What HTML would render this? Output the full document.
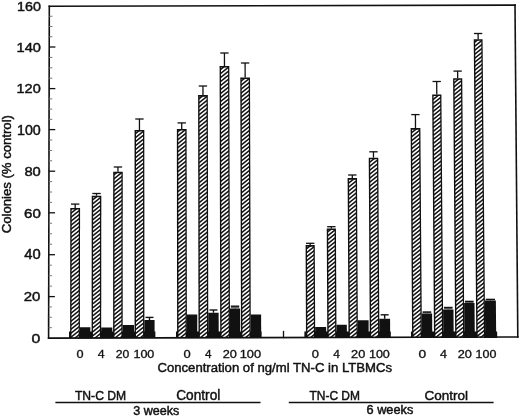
<!DOCTYPE html>
<html><head><meta charset="utf-8"><title>Colonies chart</title>
<style>
html,body{margin:0;padding:0;background:#fff;}
body{width:520px;height:417px;overflow:hidden;}
svg{display:block;}
text{font-family:"Liberation Sans", "DejaVu Sans", sans-serif;fill:#111;stroke:#111;stroke-width:0.45px;}
</style></head><body>
<svg width="520" height="417" viewBox="0 0 520 417">
<defs><pattern id="hatch" patternUnits="userSpaceOnUse" width="5" height="4"><rect width="5" height="4" fill="#111"/><path d="M-2.5,2 L2.5,-2 M0,4 L5,0 M2.5,6 L7.5,2" stroke="#fff" stroke-width="1.65"/></pattern></defs>
<rect width="520" height="417" fill="#fff"/>
<polygon points="69,338 155.4,338 155.4,331.5 69.01,331.5" fill="#111"/>
<polygon points="79.9,338 90.3,338 90.31,327.2 79.91,327.2" fill="#111"/>
<polygon points="101.2,338 112.3,338 112.3,327.4 101.21,327.4" fill="#111"/>
<polygon points="122.7,338 134,338 134,325 122.7,325" fill="#111"/>
<polygon points="144.4,338 154.6,338 154.59,320.1 144.39,320.1" fill="#111"/>
<line x1="149.49" y1="317.4" x2="149.49" y2="320.1" stroke="#111" stroke-width="1.4"/><line x1="145.49" y1="317.4" x2="153.49" y2="317.4" stroke="#111" stroke-width="1.4"/>
<polygon points="70.1,338 79.9,338 80.06,207.9 70.29,207.9" fill="#111"/>
<polygon points="71.5,338 78.6,338 78.76,209.5 71.69,209.5" fill="url(#hatch)"/>
<line x1="75.18" y1="204.1" x2="75.18" y2="207.9" stroke="#111" stroke-width="1.3"/><line x1="71" y1="204.1" x2="79.37" y2="204.1" stroke="#111" stroke-width="1.3"/>
<polygon points="91.6,338 101.2,338 101.3,195.7 91.74,195.7" fill="#111"/>
<polygon points="93,338 99.9,338 100.01,197.3 93.13,197.3" fill="url(#hatch)"/>
<line x1="96.52" y1="193.5" x2="96.52" y2="195.7" stroke="#111" stroke-width="1.3"/><line x1="92.34" y1="193.5" x2="100.71" y2="193.5" stroke="#111" stroke-width="1.3"/>
<polygon points="113.1,338 122.7,338 122.73,171.7 113.17,171.7" fill="#111"/>
<polygon points="114.5,338 121.4,338 121.44,173.3 114.56,173.3" fill="url(#hatch)"/>
<line x1="117.95" y1="167" x2="117.95" y2="171.7" stroke="#111" stroke-width="1.3"/><line x1="113.77" y1="167" x2="122.13" y2="167" stroke="#111" stroke-width="1.3"/>
<polygon points="134.6,338 144.4,338 144.33,130 134.58,130" fill="#111"/>
<polygon points="136,338 143.1,338 143.03,131.6 135.97,131.6" fill="url(#hatch)"/>
<line x1="139.45" y1="119" x2="139.45" y2="130" stroke="#111" stroke-width="1.3"/><line x1="135.27" y1="119" x2="143.63" y2="119" stroke="#111" stroke-width="1.3"/>
<polygon points="176,338 261.6,338 261.58,331.5 175.99,331.5" fill="#111"/>
<polygon points="186.9,338 197.3,338 197.26,314.4 186.87,314.4" fill="#111"/>
<polygon points="208.3,338 218.7,338 218.64,312.7 208.25,312.7" fill="#111"/>
<line x1="213.44" y1="310" x2="213.45" y2="312.7" stroke="#111" stroke-width="1.4"/><line x1="209.44" y1="310" x2="217.44" y2="310" stroke="#111" stroke-width="1.4"/>
<polygon points="230,338 240.2,338 240.12,308.5 229.93,308.5" fill="#111"/>
<line x1="235.02" y1="306.2" x2="235.02" y2="308.5" stroke="#111" stroke-width="1.4"/><polygon points="230.93,308.5 239.12,308.5 239.11,306.2 230.92,306.2" fill="#666"/>
<line x1="230.82" y1="306.2" x2="239.21" y2="306.2" stroke="#111" stroke-width="1.4"/>
<polygon points="250.8,338 261.2,338 261.12,314.6 250.73,314.6" fill="#111"/>
<polygon points="177.1,338 186.9,338 186.6,128.9 176.86,128.9" fill="#111"/>
<polygon points="178.5,338 185.6,338 185.31,130.5 178.25,130.5" fill="url(#hatch)"/>
<line x1="181.72" y1="122.9" x2="181.73" y2="128.9" stroke="#111" stroke-width="1.3"/><line x1="177.55" y1="122.9" x2="185.9" y2="122.9" stroke="#111" stroke-width="1.3"/>
<polygon points="198.5,338 208.3,338 207.83,95.1 198.09,95.1" fill="#111"/>
<polygon points="199.9,338 207,338 206.54,96.7 199.48,96.7" fill="url(#hatch)"/>
<line x1="202.94" y1="86" x2="202.96" y2="95.1" stroke="#111" stroke-width="1.3"/><line x1="198.77" y1="86" x2="207.12" y2="86" stroke="#111" stroke-width="1.3"/>
<polygon points="220.2,338 230,338 229.33,65.9 219.59,65.9" fill="#111"/>
<polygon points="221.6,338 228.7,338 228.04,67.5 220.99,67.5" fill="url(#hatch)"/>
<line x1="224.43" y1="53" x2="224.46" y2="65.9" stroke="#111" stroke-width="1.3"/><line x1="220.26" y1="53" x2="228.6" y2="53" stroke="#111" stroke-width="1.3"/>
<polygon points="241,338 250.8,338 250.02,77.4 240.28,77.4" fill="#111"/>
<polygon points="242.4,338 249.5,338 248.73,79 241.68,79" fill="url(#hatch)"/>
<line x1="245.11" y1="63" x2="245.15" y2="77.4" stroke="#111" stroke-width="1.3"/><line x1="240.94" y1="63" x2="249.28" y2="63" stroke="#111" stroke-width="1.3"/>
<polygon points="304.4,338 390.8,338 390.76,331.5 304.37,331.5" fill="#111"/>
<polygon points="315.2,338 326.2,338 326.15,327.1 315.15,327.1" fill="#111"/>
<polygon points="336.5,338 346.9,338 346.83,324.8 336.43,324.8" fill="#111"/>
<polygon points="357.9,338 368.7,338 368.59,320.2 357.8,320.2" fill="#111"/>
<polygon points="379.4,338 390.2,338 390.08,318.7 379.28,318.7" fill="#111"/>
<line x1="384.65" y1="314.8" x2="384.68" y2="318.7" stroke="#111" stroke-width="1.4"/><line x1="380.66" y1="314.8" x2="388.65" y2="314.8" stroke="#111" stroke-width="1.4"/>
<polygon points="306,338 315.2,338 314.77,245.1 305.59,245.1" fill="#111"/>
<polygon points="307.4,338 313.9,338 313.48,246.7 307,246.7" fill="url(#hatch)"/>
<line x1="310.18" y1="243.3" x2="310.18" y2="245.1" stroke="#111" stroke-width="1.3"/><line x1="305.99" y1="243.3" x2="314.37" y2="243.3" stroke="#111" stroke-width="1.3"/>
<polygon points="327.3,338 336.5,338 335.94,228.4 326.76,228.4" fill="#111"/>
<polygon points="328.7,338 335.2,338 334.65,230 328.17,230" fill="url(#hatch)"/>
<line x1="331.34" y1="226.7" x2="331.35" y2="228.4" stroke="#111" stroke-width="1.3"/><line x1="327.15" y1="226.7" x2="335.53" y2="226.7" stroke="#111" stroke-width="1.3"/>
<polygon points="348.5,338 357.9,338 357,178.1 347.63,178.1" fill="#111"/>
<polygon points="349.9,338 356.6,338 355.71,179.7 349.04,179.7" fill="url(#hatch)"/>
<line x1="352.3" y1="175" x2="352.31" y2="178.1" stroke="#111" stroke-width="1.3"/><line x1="348.11" y1="175" x2="356.48" y2="175" stroke="#111" stroke-width="1.3"/>
<polygon points="369.8,338 379.4,338 378.28,157.7 368.73,157.7" fill="#111"/>
<polygon points="371.2,338 378.1,338 377,159.3 370.13,159.3" fill="url(#hatch)"/>
<line x1="373.47" y1="151.8" x2="373.51" y2="157.7" stroke="#111" stroke-width="1.3"/><line x1="369.29" y1="151.8" x2="377.65" y2="151.8" stroke="#111" stroke-width="1.3"/>
<polygon points="411,338 497.2,338 497.14,331.5 410.95,331.5" fill="#111"/>
<polygon points="421.9,338 432.3,338 432.12,313.5 421.72,313.5" fill="#111"/>
<line x1="426.91" y1="312" x2="426.92" y2="313.5" stroke="#111" stroke-width="1.4"/><polygon points="422.72,313.5 431.12,313.5 431.11,312 422.71,312" fill="#666"/>
<line x1="422.61" y1="312" x2="431.21" y2="312" stroke="#111" stroke-width="1.4"/>
<polygon points="443.3,338 453.7,338 453.47,309.4 443.08,309.4" fill="#111"/>
<line x1="448.26" y1="307.5" x2="448.27" y2="309.4" stroke="#111" stroke-width="1.4"/><polygon points="444.08,309.4 452.47,309.4 452.46,307.5 444.06,307.5" fill="#666"/>
<line x1="443.96" y1="307.5" x2="452.56" y2="307.5" stroke="#111" stroke-width="1.4"/>
<polygon points="464.4,338 474.8,338 474.5,302.9 464.11,302.9" fill="#111"/>
<line x1="469.29" y1="301.4" x2="469.3" y2="302.9" stroke="#111" stroke-width="1.4"/><polygon points="465.11,302.9 473.5,302.9 473.49,301.4 465.1,301.4" fill="#666"/>
<line x1="465" y1="301.4" x2="473.59" y2="301.4" stroke="#111" stroke-width="1.4"/>
<polygon points="485.2,338 496.2,338 495.86,300.6 484.87,300.6" fill="#111"/>
<line x1="490.35" y1="299.4" x2="490.37" y2="300.6" stroke="#111" stroke-width="1.4"/><polygon points="485.87,300.6 494.86,300.6 494.85,299.4 485.86,299.4" fill="#666"/>
<line x1="485.76" y1="299.4" x2="494.95" y2="299.4" stroke="#111" stroke-width="1.4"/>
<polygon points="412.1,338 421.9,338 420.38,128.1 410.63,128.1" fill="#111"/>
<polygon points="413.5,338 420.6,338 419.1,129.7 412.04,129.7" fill="url(#hatch)"/>
<line x1="415.41" y1="114.6" x2="415.51" y2="128.1" stroke="#111" stroke-width="1.3"/><line x1="411.23" y1="114.6" x2="419.59" y2="114.6" stroke="#111" stroke-width="1.3"/>
<polygon points="434,338 443.3,338 441.41,94.5 432.16,94.5" fill="#111"/>
<polygon points="435.4,338 442,338 440.13,96.1 433.57,96.1" fill="url(#hatch)"/>
<line x1="436.69" y1="81.5" x2="436.79" y2="94.5" stroke="#111" stroke-width="1.3"/><line x1="432.51" y1="81.5" x2="440.86" y2="81.5" stroke="#111" stroke-width="1.3"/>
<polygon points="455.2,338 464.4,338 462.25,78.2 453.1,78.2" fill="#111"/>
<polygon points="456.6,338 463.1,338 460.97,79.8 454.51,79.8" fill="url(#hatch)"/>
<line x1="457.62" y1="71.1" x2="457.68" y2="78.2" stroke="#111" stroke-width="1.3"/><line x1="453.44" y1="71.1" x2="461.79" y2="71.1" stroke="#111" stroke-width="1.3"/>
<polygon points="476.3,338 485.2,338 482.57,39.2 473.73,39.2" fill="#111"/>
<polygon points="477.7,338 483.9,338 481.29,40.8 475.14,40.8" fill="url(#hatch)"/>
<line x1="478.1" y1="33.5" x2="478.15" y2="39.2" stroke="#111" stroke-width="1.3"/><line x1="473.93" y1="33.5" x2="482.27" y2="33.5" stroke="#111" stroke-width="1.3"/>
<g stroke="#111" fill="none" stroke-linecap="square">
<line x1="49.3" y1="6.2" x2="48.6" y2="338.1" stroke-width="1.6"/>
<line x1="49.3" y1="6.2" x2="515" y2="5.1" stroke-width="1.6"/>
<line x1="515" y1="5.1" x2="517.8" y2="337" stroke-width="1.6"/>
<line x1="48.6" y1="338.1" x2="517.8" y2="337" stroke-width="1.6"/>
<line x1="283.5" y1="331.5" x2="283.5" y2="337.5" stroke-width="1.3"/>
</g>
<g stroke="#111">
<line x1="48.62" y1="327.65" x2="51.82" y2="327.65" stroke-width="1" stroke="#777"/><line x1="48.64" y1="317.3" x2="51.84" y2="317.3" stroke-width="1" stroke="#777"/><line x1="48.67" y1="306.95" x2="51.87" y2="306.95" stroke-width="1" stroke="#777"/><line x1="48.69" y1="296.6" x2="54.89" y2="296.6" stroke-width="1.3"/><line x1="48.71" y1="286.12" x2="51.91" y2="286.12" stroke-width="1" stroke="#777"/><line x1="48.73" y1="275.65" x2="51.93" y2="275.65" stroke-width="1" stroke="#777"/><line x1="48.75" y1="265.18" x2="51.95" y2="265.18" stroke-width="1" stroke="#777"/><line x1="48.78" y1="254.7" x2="54.98" y2="254.7" stroke-width="1.3"/><line x1="48.8" y1="244.22" x2="52" y2="244.22" stroke-width="1" stroke="#777"/><line x1="48.82" y1="233.75" x2="52.02" y2="233.75" stroke-width="1" stroke="#777"/><line x1="48.84" y1="223.28" x2="52.04" y2="223.28" stroke-width="1" stroke="#777"/><line x1="48.86" y1="212.8" x2="55.06" y2="212.8" stroke-width="1.3"/><line x1="48.89" y1="202.4" x2="52.09" y2="202.4" stroke-width="1" stroke="#777"/><line x1="48.91" y1="192" x2="52.11" y2="192" stroke-width="1" stroke="#777"/><line x1="48.93" y1="181.6" x2="52.13" y2="181.6" stroke-width="1" stroke="#777"/><line x1="48.95" y1="171.2" x2="55.15" y2="171.2" stroke-width="1.3"/><line x1="48.97" y1="160.8" x2="52.17" y2="160.8" stroke-width="1" stroke="#777"/><line x1="49" y1="150.4" x2="52.2" y2="150.4" stroke-width="1" stroke="#777"/><line x1="49.02" y1="140" x2="52.22" y2="140" stroke-width="1" stroke="#777"/><line x1="49.04" y1="129.6" x2="55.24" y2="129.6" stroke-width="1.3"/><line x1="49.06" y1="119.35" x2="52.26" y2="119.35" stroke-width="1" stroke="#777"/><line x1="49.08" y1="109.1" x2="52.28" y2="109.1" stroke-width="1" stroke="#777"/><line x1="49.1" y1="98.85" x2="52.3" y2="98.85" stroke-width="1" stroke="#777"/><line x1="49.13" y1="88.6" x2="55.33" y2="88.6" stroke-width="1.3"/><line x1="49.15" y1="78.2" x2="52.35" y2="78.2" stroke-width="1" stroke="#777"/><line x1="49.17" y1="67.8" x2="52.37" y2="67.8" stroke-width="1" stroke="#777"/><line x1="49.19" y1="57.4" x2="52.39" y2="57.4" stroke-width="1" stroke="#777"/><line x1="49.21" y1="47" x2="55.41" y2="47" stroke-width="1.3"/><line x1="49.24" y1="36.75" x2="52.44" y2="36.75" stroke-width="1" stroke="#777"/><line x1="49.26" y1="26.5" x2="52.46" y2="26.5" stroke-width="1" stroke="#777"/><line x1="49.28" y1="16.25" x2="52.48" y2="16.25" stroke-width="1" stroke="#777"/>
</g>
<text transform="translate(16.95,10.7) scale(1.060,1)" font-size="13.57">160</text>
<text transform="translate(16.53,51.7) scale(1.079,1)" font-size="13.57">140</text>
<text transform="translate(16.54,93.1) scale(1.070,1)" font-size="13.57">120</text>
<text transform="translate(16.96,134.5) scale(1.029,1)" font-size="13.86">100</text>
<text transform="translate(24.41,175.7) scale(1.087,1)" font-size="13.57">80</text>
<text transform="translate(24.05,217.5) scale(1.112,1)" font-size="13.57">60</text>
<text transform="translate(24.2,259.4) scale(1.076,1)" font-size="13.71">40</text>
<text transform="translate(23.75,300.7) scale(1.105,1)" font-size="13.57">20</text>
<text transform="translate(31.57,342.7) scale(1.167,1)" font-size="13.57">0</text>
<text transform="translate(10.9,233.26) rotate(-90) scale(1.054,1)" font-size="12.47">Colonies (% control)</text>
<text transform="translate(76.39,357.5) scale(1.202,1)" font-size="10.57" style="stroke-width:0.3px">0</text>
<text transform="translate(97.75,357.5) scale(1.152,1)" font-size="10.72" style="stroke-width:0.3px">4</text>
<text transform="translate(115.79,357.5) scale(1.150,1)" font-size="10.57" style="stroke-width:0.3px">20</text>
<text transform="translate(133.39,357.5) scale(1.190,1)" font-size="10.57" style="stroke-width:0.3px">100</text>
<text transform="translate(183.48,357.5) scale(1.222,1)" font-size="10.57" style="stroke-width:0.3px">0</text>
<text transform="translate(205.06,357.5) scale(1.097,1)" font-size="10.72" style="stroke-width:0.3px">4</text>
<text transform="translate(222.76,357.5) scale(1.206,1)" font-size="10.57" style="stroke-width:0.3px">20</text>
<text transform="translate(239.67,357.5) scale(1.214,1)" font-size="10.57" style="stroke-width:0.3px">100</text>
<text transform="translate(311.78,357.5) scale(1.222,1)" font-size="10.57" style="stroke-width:0.3px">0</text>
<text transform="translate(333.26,357.5) scale(1.115,1)" font-size="10.72" style="stroke-width:0.3px">4</text>
<text transform="translate(351.06,357.5) scale(1.206,1)" font-size="10.57" style="stroke-width:0.3px">20</text>
<text transform="translate(368.89,357.5) scale(1.190,1)" font-size="10.57" style="stroke-width:0.3px">100</text>
<text transform="translate(418.45,357.5) scale(1.301,1)" font-size="10.57" style="stroke-width:0.3px">0</text>
<text transform="translate(440.05,357.5) scale(1.170,1)" font-size="10.72" style="stroke-width:0.3px">4</text>
<text transform="translate(457.76,357.5) scale(1.206,1)" font-size="10.57" style="stroke-width:0.3px">20</text>
<text transform="translate(475.6,357.5) scale(1.184,1)" font-size="10.57" style="stroke-width:0.3px">100</text>
<text transform="translate(157.44,371.6) scale(1.021,1)" font-size="12.88">Concentration of ng/ml TN-C in LTBMCs</text>
<line x1="55.4" y1="402.5" x2="260.5" y2="402.5" stroke="#111" stroke-width="1.6"/>
<line x1="288.8" y1="402.5" x2="493.6" y2="402.5" stroke="#111" stroke-width="1.6"/>
<text transform="translate(74.96,400.05) scale(0.982,1)" font-size="12.36">TN-C DM</text>
<text transform="translate(176.22,400.3) scale(0.988,1)" font-size="13.84">Control</text>
<text transform="translate(309.46,400.1) scale(0.974,1)" font-size="12.29">TN-C DM</text>
<text transform="translate(424.42,399.8) scale(1.019,1)" font-size="13.29">Control</text>
<text transform="translate(133.3,414.6) scale(1.040,1)" font-size="12.05">3 weeks</text>
<text transform="translate(366.56,414.4) scale(1.045,1)" font-size="12.19">6 weeks</text>
</svg>
</body></html>
